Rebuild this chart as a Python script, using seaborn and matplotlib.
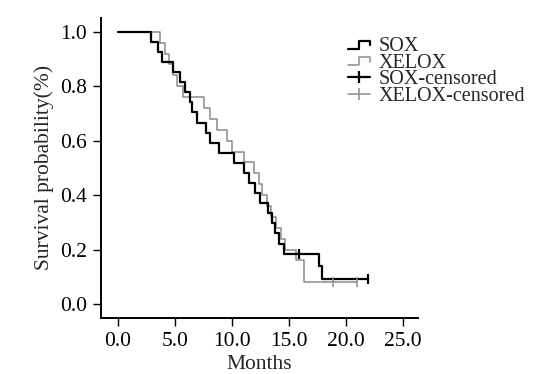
import numpy as np
import pandas as pd
import matplotlib
matplotlib.use("Agg")
import matplotlib.pyplot as plt
import seaborn as sns
from matplotlib.lines import Line2D
from matplotlib.legend_handler import HandlerBase

# -------------------------
# Data (months, 1 = event, 0 = censored)
# -------------------------
sox_time = [2.95, 3.52, 3.91, 4.87, 5.45, 5.94, 6.32, 6.53, 6.97, 7.78, 8.13, 8.86,
            10.17, 11.04, 11.48, 12.06, 12.50, 13.14, 13.52, 13.81, 14.10, 14.54,
            15.90, 17.60, 17.90, 21.90, 21.90]
sox_event = [1] * 22 + [0, 1, 1, 0, 0]

xelox_time = [3.76, 4.15, 4.55, 4.90, 5.24, 5.77, 7.54, 8.13, 8.71, 9.59, 10.03, 11.04,
              11.91, 12.41, 12.67, 13.11, 13.46, 13.90, 14.34, 14.69, 15.60, 16.28, 16.28,
              18.90, 20.95]
xelox_event = [1] * 23 + [0, 0]

x_ticks = [0, 5, 10, 15, 20, 25]
y_ticks = [0.0, 0.2, 0.4, 0.6, 0.8, 1.0]


def km_curve(times, events):
    df = pd.DataFrame({"t": times, "e": events}).sort_values("t")
    n = len(df)
    s = 1.0
    xs, ys = [0.0], [1.0]
    cx, cy = [], []
    for t, g in df.groupby("t"):
        d = g["e"].sum()
        c = len(g) - d
        if d > 0:
            s *= 1 - d / n
            xs.append(t)
            ys.append(s)
        if c > 0:
            cx.append(t)
            cy.append(s)
        n -= d + c
    if xs[-1] < df["t"].max():
        xs.append(df["t"].max())
        ys.append(s)
    return xs, ys, cx, cy


class StepHandler(HandlerBase):
    def create_artists(self, legend, orig_handle, xdescent, ydescent, width, height, fontsize, trans):
        xs = np.array([0, 0.5, 0.5, 1.0, 1.0]) * width - xdescent
        ys = np.array([0.2, 0.2, 0.75, 0.75, 0.45]) * height - ydescent
        line = Line2D(xs, ys, color=orig_handle.get_color(),
                      lw=orig_handle.get_linewidth(), transform=trans)
        return [line]


sns.set_style("ticks")
plt.rcParams["font.family"] = ["Liberation Serif", "DejaVu Serif"]
plt.rcParams["font.size"] = 15.5

fig = plt.figure(figsize=(5.45, 3.74), dpi=100)
ax = fig.add_axes([0.185, 0.15, 0.582, 0.802])

sox_col, xel_col = "black", "#8c8c8c"

sx, sy, scx, scy = km_curve(sox_time, sox_event)
xx, xy, xcx, xcy = km_curve(xelox_time, xelox_event)

sns.lineplot(x=xx, y=xy, ax=ax, drawstyle="steps-post", estimator=None, sort=False,
             color=xel_col, lw=1.1)
sns.lineplot(x=sx, y=sy, ax=ax, drawstyle="steps-post", estimator=None, sort=False,
             color=sox_col, lw=1.6)
ax.plot(xcx, xcy, ls="none", marker="|", ms=7, mew=1.1, color=xel_col)
ax.plot(scx, scy, ls="none", marker="|", ms=7, mew=1.6, color=sox_col)

ax.set_xlim(-1.46, 26.3)
ax.set_ylim(-0.051, 1.051)
ax.set_xticks(x_ticks)
ax.set_xticklabels([f"{v:.1f}" for v in x_ticks])
ax.set_yticks(y_ticks)
ax.set_yticklabels([f"{v:.1f}" for v in y_ticks])
ax.set_xlabel("Months", labelpad=3)
ax.set_ylabel("Survival probability(%)", labelpad=4)
ax.tick_params(direction="out", length=5.5, width=1, colors="black", pad=4.5)
for side in ["left", "bottom"]:
    ax.spines[side].set_linewidth(1.4)
    ax.spines[side].set_color("black")
sns.despine(ax=ax)

h_sox = Line2D([], [], color=sox_col, lw=1.6)
h_xel = Line2D([], [], color=xel_col, lw=1.1)
h_sc = Line2D([], [], color=sox_col, lw=1.6, marker="|", ms=9, mew=1.6)
h_xc = Line2D([], [], color=xel_col, lw=1.1, marker="|", ms=9, mew=1.1)
fig.legend([h_sox, h_xel, h_sc, h_xc], ["SOX", "XELOX", "SOX-censored", "XELOX-censored"],
           handler_map={h_sox: StepHandler(), h_xel: StepHandler()},
           loc="upper left", bbox_to_anchor=(0.639, 0.9), bbox_transform=fig.transFigure,
           frameon=False, borderpad=0, borderaxespad=0, labelspacing=-0.13,
           handlelength=1.1, handletextpad=0.4, fontsize=14.5)

fig.savefig("out.png", dpi=100)
